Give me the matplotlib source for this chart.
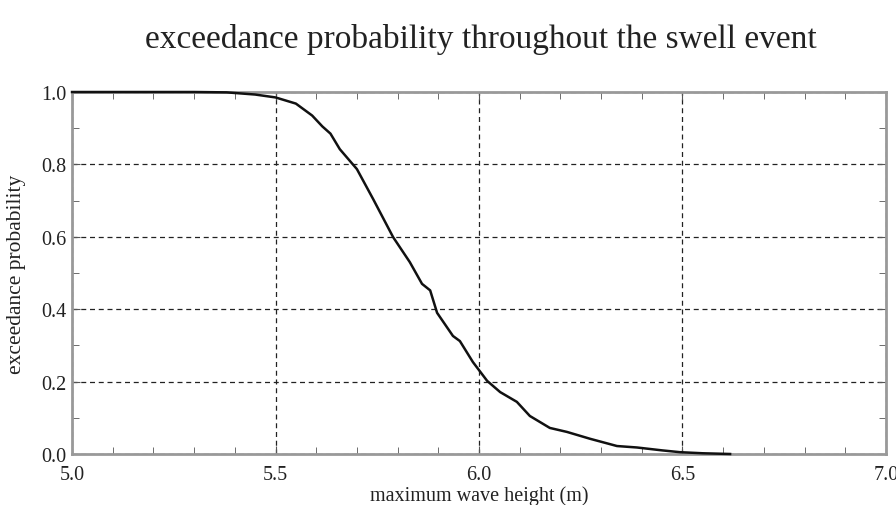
import numpy as np
import matplotlib.pyplot as plt
from matplotlib.ticker import MultipleLocator

# Daten
height = np.array([5.00, 5.30, 5.38, 5.45, 5.50, 5.55, 5.59, 5.615, 5.635, 5.658,
                   5.70, 5.74, 5.789, 5.83, 5.86, 5.88, 5.897, 5.936, 5.953, 5.985,
                   6.02, 6.052, 6.093, 6.125, 6.174, 6.216, 6.273, 6.339, 6.388, 6.45,
                   6.494, 6.55, 6.617])
prob = np.array([1.000, 1.000, 0.999, 0.993, 0.985, 0.968, 0.935, 0.905, 0.885, 0.842,
                 0.787, 0.704, 0.599, 0.530, 0.470, 0.452, 0.390, 0.326, 0.312, 0.254,
                 0.202, 0.171, 0.144, 0.105, 0.072, 0.061, 0.042, 0.022, 0.018, 0.010,
                 0.005, 0.002, 0.000])

plt.rcParams['font.family'] = 'Liberation Serif'

fig = plt.figure(figsize=(8.96, 5.06), dpi=100)
ax = fig.add_axes([0.0804, 0.1008, 0.9084, 0.7154])

ax.plot(height, prob, color='#111111', lw=1.8, zorder=3, clip_on=False)

ax.set_xlim(5.0, 7.0)
ax.set_ylim(0.0, 1.0)
ax.xaxis.set_major_locator(MultipleLocator(0.5))
ax.xaxis.set_minor_locator(MultipleLocator(0.1))
ax.yaxis.set_major_locator(MultipleLocator(0.2))
ax.yaxis.set_minor_locator(MultipleLocator(0.1))
ax.tick_params(which='both', direction='in', top=True, right=True, color='#555555')
ax.tick_params(which='major', length=6, labelsize=14.5, labelcolor='#222222')
ax.tick_params(axis='x', which='major', pad=8)
ax.tick_params(axis='y', which='major', pad=4)
ax.tick_params(which='minor', length=5)
ax.xaxis.set_major_formatter(plt.FormatStrFormatter('%.1f'))
ax.yaxis.set_major_formatter(plt.FormatStrFormatter('%.1f'))
ax.grid(True, which='major', color='#222222', linestyle=(0, (4, 3)), lw=0.9)
for s in ax.spines.values():
    s.set_color('#999999')
    s.set_linewidth(2)

ax.set_xlabel('maximum wave height (m)', fontsize=14.5, color='#222222')
ax.set_ylabel('exceedance probability', fontsize=15.5, color='#222222')
ax.xaxis.set_label_coords(0.5, -0.086)
ax.yaxis.set_label_coords(-0.056, 0.5)
fig.text(0.537, 0.922, 'exceedance probability throughout the swell event',
         ha='center', va='center', fontsize=24, color='#222222')

fig.savefig('out.png', dpi=100)
